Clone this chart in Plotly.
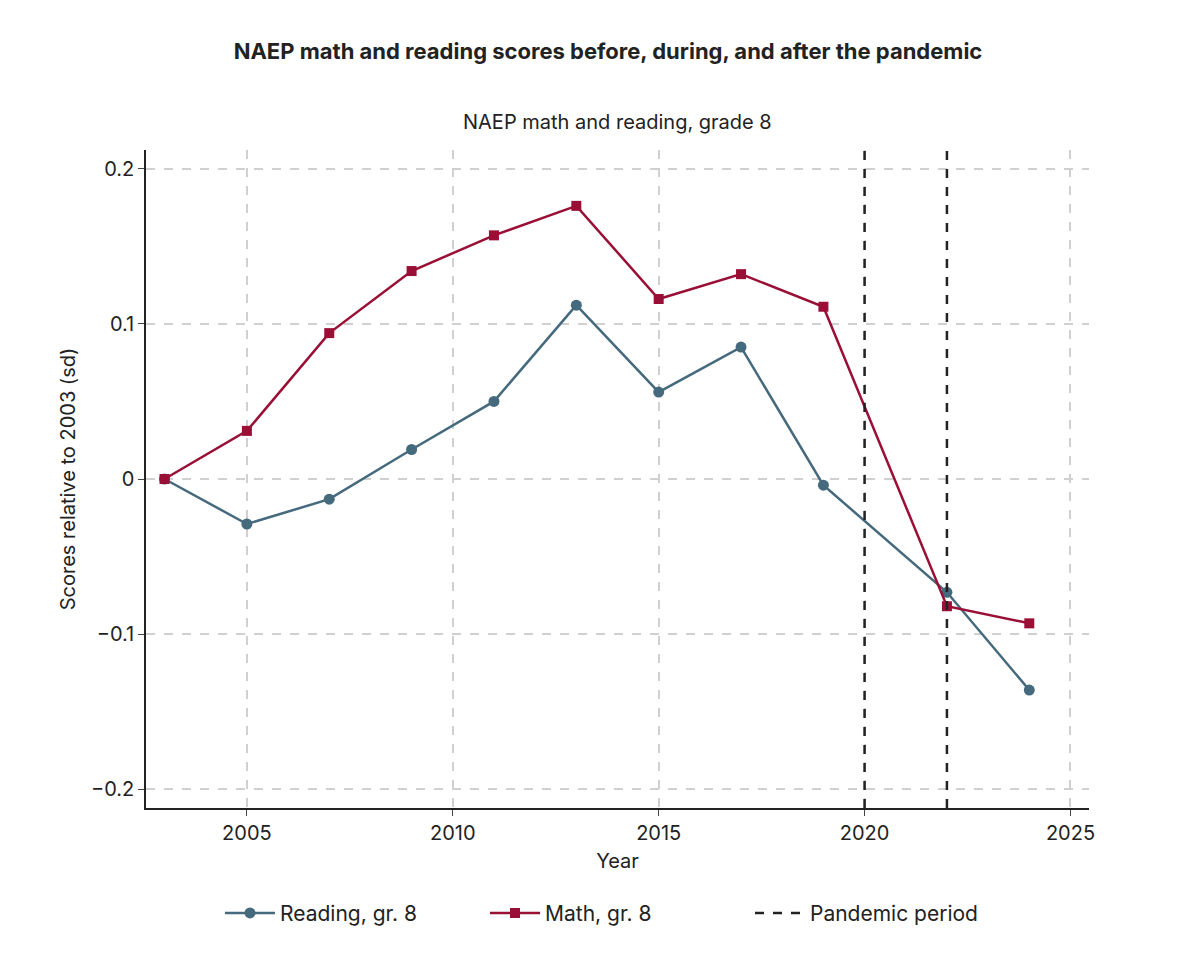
import plotly.graph_objects as go

years_read = [2003, 2005, 2007, 2009, 2011, 2013, 2015, 2017, 2019, 2022, 2024]
reading = [0, -0.029, -0.013, 0.019, 0.050, 0.112, 0.056, 0.085, -0.004, -0.073, -0.136]
years_math = [2003, 2005, 2007, 2009, 2011, 2013, 2015, 2017, 2019, 2022, 2024]
math = [0, 0.031, 0.094, 0.134, 0.157, 0.176, 0.116, 0.132, 0.111, -0.082, -0.093]
pandemic_years = [2020, 2022]

FONT = "Inter"
fig = go.Figure()
fig.add_trace(go.Scatter(x=years_read, y=reading, mode="lines+markers", name="Reading, gr. 8",
                         line=dict(color="#45697d", width=2.5), marker=dict(symbol="circle", size=11)))
fig.add_trace(go.Scatter(x=years_math, y=math, mode="lines+markers", name="Math, gr. 8",
                         line=dict(color="#990f36", width=2.5), marker=dict(symbol="square", size=10)))
fig.add_trace(go.Scatter(x=[None], y=[None], mode="lines", name="Pandemic period",
                         line=dict(color="#222222", width=2.5, dash="dash")))
for yr in pandemic_years:
    fig.add_shape(type="line", x0=yr, x1=yr, y0=0, y1=1, yref="paper",
                  line=dict(color="#222222", width=2.5, dash="dash"))

fig.update_layout(
    width=1200, height=954, plot_bgcolor="white", paper_bgcolor="white",
    margin=dict(l=138, r=119, t=142, b=154),
    font=dict(family=FONT, size=20, color="#222222"),
    title=dict(text="<b>NAEP math and reading scores before, during, and after the pandemic</b>",
               x=0.5, xanchor="center", y=0.955, yanchor="middle", font=dict(size=22, weight=500)),
    annotations=[dict(text="NAEP math and reading, grade 8", x=0.5, xref="paper",
                      y=1.0 + (150 - 122) / 658, yref="paper", yanchor="middle",
                      showarrow=False, font=dict(size=20))],
    legend=dict(orientation="h", x=0.5, xanchor="center", y=-0.16, yanchor="middle",
                font=dict(size=21), entrywidth=200, itemwidth=50),
    xaxis=dict(range=[2002.55, 2025.45], tickvals=[2005, 2010, 2015, 2020, 2025],
               tickfont=dict(size=20),
               title=dict(text="Year", standoff=10, font=dict(size=20)), showline=True, linecolor="#222", linewidth=1.5,
               ticks="outside", ticklen=6, showgrid=True, gridcolor="#d0d0d0", griddash="dash",
               gridwidth=1.5, zeroline=False),
    yaxis=dict(range=[-0.212, 0.212], tickvals=[-0.2, -0.1, 0, 0.1, 0.2],
               ticktext=["−0.2", "−0.1", "0", "0.1", "0.2"], tickfont=dict(size=20),
               title=dict(text="Scores relative to 2003 (sd)", standoff=10, font=dict(size=20)), showline=True,
               linecolor="#222", linewidth=1.5, ticks="outside", ticklen=6, showgrid=True,
               gridcolor="#d0d0d0", griddash="dash", gridwidth=1.5, zeroline=False),
)
fig.write_html("out.html")
